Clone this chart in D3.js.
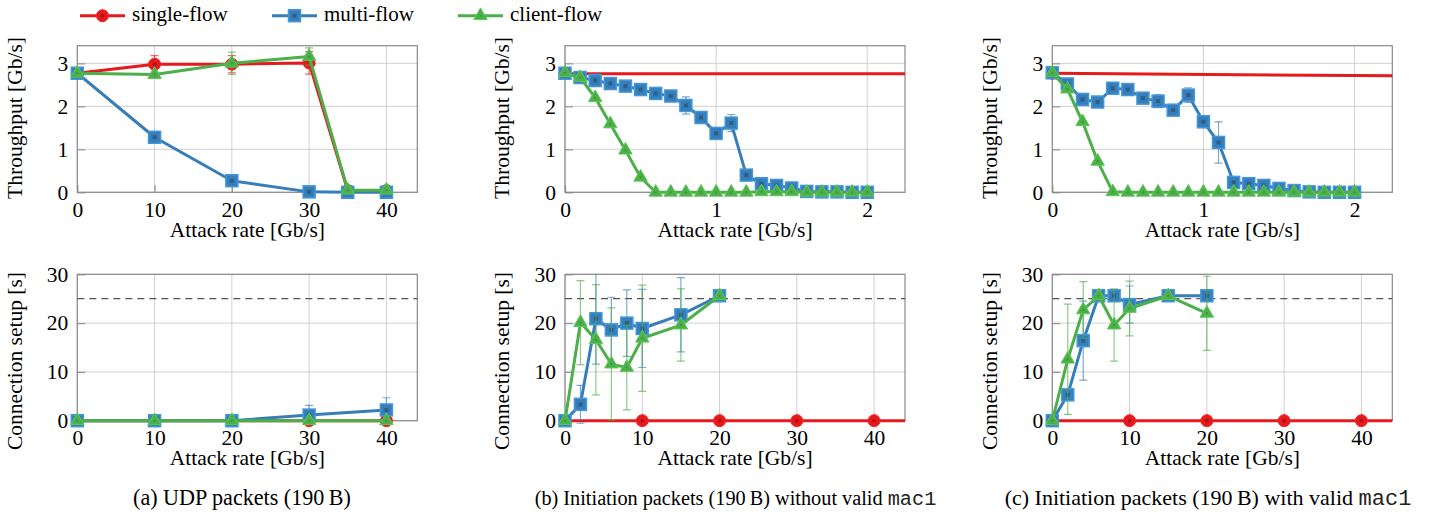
<!DOCTYPE html>
<html>
<head>
<meta charset="utf-8">
<script src="https://cdn.jsdelivr.net/npm/d3@7"></script>
<style>
  body { margin: 0; background: #fff; }
  svg { display: block; }
</style>
</head>
<body>
<div id="chart"></div>
<script>
// series names and colours
var seriesNames = ["single-flow", "multi-flow", "client-flow"];
var seriesColors = ["#e41a1c", "#377eb8", "#4daf4a"];
var seriesMarks = ["circle", "square", "triangle"];

// (a) UDP packets
var udpRate = [0, 10, 20, 30, 35, 40];
var udpSingleTput = [2.77, 2.98, 2.98, 3.01, 0.04, 0.04];
var udpSingleTputErr = [0, 0.2, 0.2, 0.26, 0, 0];
var udpMultiTput = [2.77, 1.28, 0.27, 0.01, 0, 0];
var udpMultiTputErr = [0, 0.02, 0.03, 0, 0, 0];
var udpClientTput = [2.77, 2.74, 3.0, 3.16, 0.05, 0.05];
var udpClientTputErr = [0, 0.08, 0.26, 0.2, 0, 0];

var udpSetupRate = [0, 10, 20, 30, 40];
var udpSingleSetup = [0, 0, 0, 0, 0];
var udpMultiSetup = [0, 0, 0, 1.15, 2.2];
var udpMultiSetupErr = [0, 0, 0, 2.0, 2.5];
var udpClientSetup = [0, 0, 0, 0, 0];

// (b) / (c) initiation packets
var singleRate = [0, 10, 20, 30, 40, 50];
var initRate = [0, 0.1, 0.2, 0.3, 0.4, 0.5, 0.6, 0.7, 0.8, 0.9, 1.0,
                1.1, 1.2, 1.3, 1.4, 1.5, 1.6, 1.7, 1.8, 1.9, 2.0];
var setupRate = [0, 2, 4, 6, 8, 10, 15, 20];

// (b) without valid mac1
var noMacSingleTput = [2.76, 2.76, 2.75, 2.75, 2.74, 2.74];
var noMacMultiTput = [2.77, 2.67, 2.60, 2.53, 2.47, 2.39, 2.30, 2.24, 2.02, 1.74, 1.37,
                      1.61, 0.40, 0.20, 0.16, 0.10, 0.02, 0.01, 0.01, 0, 0];
var noMacMultiTputErr = [0, 0.02, 0.02, 0.02, 0.02, 0.03, 0.03, 0.04, 0.2, 0.05, 0.12,
                         0.2, 0.04, 0.02, 0.02, 0.01, 0, 0, 0, 0, 0];
var noMacClientTput = [2.78, 2.67, 2.20, 1.59, 0.98, 0.35, 0, 0, 0, 0, 0,
                       0, 0, 0.01, 0.01, 0.01, 0, 0, 0, 0, 0];
var noMacSingleSetup = [0, 0, 0, 0, 0, 0];
var noMacMultiSetup = [0, 3.35, 20.9, 18.6, 20.0, 18.9, 21.7, 25.6];
var noMacMultiSetupErr = [0, 3.9, 9.3, 6.7, 6.8, 8.0, 7.6, 0.2];
var noMacClientSetup = [0, 20.1, 16.6, 11.6, 10.9, 16.9, 19.6, 25.6];
var noMacClientSetupErr = [0, 8.6, 11.3, 11.5, 8.7, 10.9, 7.4, 0.2];

// (c) with valid mac1
var macSingleTput = [2.77, 2.50, 2.48, 2.47, 2.46, 2.45];
var macMultiTput = [2.78, 2.52, 2.16, 2.10, 2.42, 2.39, 2.19, 2.12, 1.91, 2.26, 1.64,
                    1.16, 0.23, 0.20, 0.16, 0.09, 0.04, 0.01, 0, 0, 0];
var macMultiTputErr = [0, 0.04, 0.05, 0.05, 0.04, 0.04, 0.05, 0.15, 0.05, 0.17, 0.06,
                       0.48, 0.03, 0.02, 0.02, 0.01, 0, 0, 0, 0, 0];
var macClientTput = [2.78, 2.40, 1.64, 0.72, 0.01, 0, 0, 0, 0, 0, 0,
                     0, 0, 0, 0, 0, 0, 0, 0, 0, 0];
var macSingleSetup = [0, 0, 0, 0, 0, 0];
var macMultiSetup = [0, 5.3, 16.4, 25.6, 25.6, 23.8, 25.6, 25.6];
var macMultiSetupErr = [0, 0.4, 8.1, 0, 0, 3.8, 0, 0];
var macClientSetup = [0, 12.6, 22.7, 25.6, 19.6, 23.0, 25.6, 22.0];
var macClientSetupErr = [0, 11.3, 5.8, 0, 7.4, 5.6, 0, 7.6];

var captions = ["(a) UDP packets (190\u2009B)",
                "(b) Initiation packets (190\u2009B) without valid ",
                "(c) Initiation packets (190\u2009B) with valid "];

var W = 1431, H = 513;
var serif = "'Liberation Serif', 'Times New Roman', serif";
var fs = 21.5;

var svg = d3.select("#chart").append("svg")
    .attr("width", W).attr("height", H)
    .attr("font-family", serif);

function zip(xs, ys, es) {
  return xs.map(function(x, i) { return { x: x, y: ys[i], e: es ? es[i] : 0 }; });
}

function drawMark(g, kind, color) {
  var c = d3.color(color);
  if (kind == "circle") {
    g.append("circle").attr("r", 6).attr("fill", color)
      .attr("stroke", c.brighter(0.4)).attr("stroke-width", 1);
    g.append("circle").attr("r", 2).attr("fill", c.darker(0.7));
  } else if (kind == "square") {
    g.append("rect").attr("x", -6).attr("y", -6).attr("width", 12).attr("height", 12)
      .attr("fill", color).attr("stroke", c.brighter(0.5)).attr("stroke-width", 1.5);
    g.append("rect").attr("x", -2).attr("y", -2).attr("width", 4).attr("height", 4)
      .attr("fill", c.darker(0.8));
  } else {
    g.append("path").attr("d", d3.symbol(d3.symbolTriangle, 78)())
      .attr("fill", color).attr("stroke", c.brighter(0.4)).attr("stroke-width", 1);
    g.append("circle").attr("r", 1).attr("fill", c.darker(0.6));
  }
}

var clipId = 0;
function panel(cfg) {
  var g = svg.append("g").attr("transform", "translate(" + cfg.left + "," + cfg.top + ")");
  var x = d3.scaleLinear().domain(cfg.xDomain).range([0, cfg.width]);
  var y = d3.scaleLinear().domain(cfg.yDomain).range([cfg.height, 0]);

  // grid
  g.append("g").selectAll("line").data(cfg.xTicks).join("line")
    .attr("x1", function(d) { return x(d); }).attr("x2", function(d) { return x(d); })
    .attr("y1", 0).attr("y2", cfg.height)
    .attr("stroke", "#d0d0d0").attr("stroke-width", 1);
  g.append("g").selectAll("line").data(cfg.yTicks).join("line")
    .attr("y1", function(d) { return y(d); }).attr("y2", function(d) { return y(d); })
    .attr("x1", 0).attr("x2", cfg.width)
    .attr("stroke", "#d0d0d0").attr("stroke-width", 1);

  // axes (inner ticks)
  var fmt = d3.format("~g");
  var xa = g.append("g").attr("transform", "translate(0," + cfg.height + ")")
    .call(d3.axisBottom(x).tickValues(cfg.xTicks).tickFormat(fmt)
      .tickSizeInner(-7).tickSizeOuter(0).tickPadding(9));
  var ya = g.append("g")
    .call(d3.axisLeft(y).tickValues(cfg.yTicks).tickFormat(fmt)
      .tickSizeInner(-8).tickSizeOuter(0).tickPadding(9));
  [xa, ya].forEach(function(a) {
    a.select(".domain").remove();
    a.selectAll(".tick line").attr("stroke", "#999").attr("stroke-width", 1.3);
    a.selectAll(".tick text").attr("font-family", serif).attr("font-size", fs).attr("fill", "#000");
  });

  // frame
  g.append("rect").attr("width", cfg.width).attr("height", cfg.height)
    .attr("fill", "none").attr("stroke", "#8a8a8a").attr("stroke-width", 1.2);

  // dashed timeout line
  if (cfg.dashed != null) {
    g.append("line").attr("x1", 0).attr("x2", cfg.width)
      .attr("y1", y(cfg.dashed)).attr("y2", y(cfg.dashed))
      .attr("stroke", "#555").attr("stroke-width", 1.3).attr("stroke-dasharray", "7,5");
  }

  var cid = "clip" + (clipId++);
  g.append("clipPath").attr("id", cid).append("rect")
    .attr("x", 0).attr("y", 0).attr("width", cfg.width).attr("height", cfg.height + 3);

  var line = d3.line().x(function(d) { return x(d.x); }).y(function(d) { return y(d.y); });

  cfg.series.forEach(function(s, si) {
    var color = seriesColors[si];
    var sg = g.append("g");
    // error bars
    var eb = sg.append("g").attr("clip-path", "url(#" + cid + ")")
      .attr("stroke", color).attr("stroke-opacity", 0.65).attr("stroke-width", 1.2);
    s.filter(function(d) { return d.e > 0 && d.x <= cfg.xDomain[1]; }).forEach(function(d) {
      var y0 = y(d.y - d.e), y1 = y(d.y + d.e), cx = x(d.x);
      eb.append("line").attr("x1", cx).attr("x2", cx).attr("y1", y0).attr("y2", y1);
      eb.append("line").attr("x1", cx - 4).attr("x2", cx + 4).attr("y1", y0).attr("y2", y0);
      eb.append("line").attr("x1", cx - 4).attr("x2", cx + 4).attr("y1", y1).attr("y2", y1);
    });
    sg.append("path").datum(s).attr("d", line)
      .attr("clip-path", "url(#" + cid + ")")
      .attr("fill", "none").attr("stroke", color).attr("stroke-width", 3)
      .attr("stroke-linejoin", "round");
    sg.append("g").selectAll("g")
      .data(s.filter(function(d) { return d.x <= cfg.xDomain[1]; }))
      .join("g")
      .attr("transform", function(d) { return "translate(" + x(d.x) + "," + y(d.y) + ")"; })
      .each(function() { drawMark(d3.select(this), seriesMarks[si], color); });
  });

  // axis titles
  g.append("text").attr("x", cfg.width / 2).attr("y", cfg.height + cfg.xTitleOff)
    .attr("text-anchor", "middle").attr("font-size", fs).text("Attack rate [Gb/s]");
  g.append("text")
    .attr("transform", "translate(" + (-55.6) + "," + cfg.yTitleY + ") rotate(-90)")
    .attr("text-anchor", "middle").attr("font-size", fs).text(cfg.yTitle);
}

var lefts = [77.3, 565, 1052.3];
var pw = 340;
var topCfg = { top: 45.7, height: 146.6 };
var botCfg = { top: 274.3, height: 146.4 };

var topSeries = [
  [zip(udpRate, udpSingleTput, udpSingleTputErr), zip(udpRate, udpMultiTput, udpMultiTputErr), zip(udpRate, udpClientTput, udpClientTputErr)],
  [zip(singleRate, noMacSingleTput), zip(initRate, noMacMultiTput, noMacMultiTputErr), zip(initRate, noMacClientTput)],
  [zip(singleRate, macSingleTput), zip(initRate, macMultiTput, macMultiTputErr), zip(initRate, macClientTput)]
];
var botSeries = [
  [zip(udpSetupRate, udpSingleSetup), zip(udpSetupRate, udpMultiSetup, udpMultiSetupErr), zip(udpSetupRate, udpClientSetup)],
  [zip(singleRate, noMacSingleSetup), zip(setupRate, noMacMultiSetup, noMacMultiSetupErr), zip(setupRate, noMacClientSetup, noMacClientSetupErr)],
  [zip(singleRate, macSingleSetup), zip(setupRate, macMultiSetup, macMultiSetupErr), zip(setupRate, macClientSetup, macClientSetupErr)]
];

for (var i = 0; i < 3; i++) {
  panel({
    left: lefts[i], top: topCfg.top, width: pw, height: topCfg.height,
    xDomain: i == 0 ? [0, 44] : [0, 2.25], yDomain: [0, 3.41],
    xTicks: i == 0 ? [0, 10, 20, 30, 40] : [0, 1, 2], yTicks: [0, 1, 2, 3],
    series: topSeries[i], yTitle: "Throughput [Gb/s]", yTitleY: 72.3, xTitleOff: 45
  });
  panel({
    left: lefts[i], top: botCfg.top, width: pw, height: botCfg.height,
    xDomain: [0, 44], yDomain: [0, 30],
    xTicks: [0, 10, 20, 30, 40], yTicks: [0, 10, 20, 30], dashed: 25,
    series: botSeries[i], yTitle: "Connection setup [s]", yTitleY: 86.7, xTitleOff: 44
  });
}

// captions, sized to the width they take in the figure
var capX = [242, 735.5, 1208];
var capW = [218, 402, 407];
captions.forEach(function(c, i) {
  var t = svg.append("text").attr("x", capX[i]).attr("y", 505)
    .attr("text-anchor", "middle").attr("font-size", 22);
  t.append("tspan").text(c);
  if (i > 0) t.append("tspan").attr("font-family", "'Liberation Mono', monospace")
    .attr("fill", "#222").text("mac1");
  var w = t.node().getComputedTextLength();
  if (w > 0) t.attr("font-size", 22 * capW[i] / w);
});

// legend
var legX = [80, 272, 458];
var leg = svg.append("g");
seriesNames.forEach(function(n, i) {
  var lg = leg.append("g").attr("transform", "translate(" + legX[i] + ",15.7)");
  lg.append("line").attr("x1", 0).attr("x2", 45).attr("y1", 0).attr("y2", 0)
    .attr("stroke", seriesColors[i]).attr("stroke-width", 3);
  drawMark(lg.append("g").attr("transform", "translate(22.5,0)"), seriesMarks[i], seriesColors[i]);
  lg.append("text").attr("x", 52).attr("y", 5.5).attr("font-size", 21).text(n);
});
</script>
</body>
</html>
